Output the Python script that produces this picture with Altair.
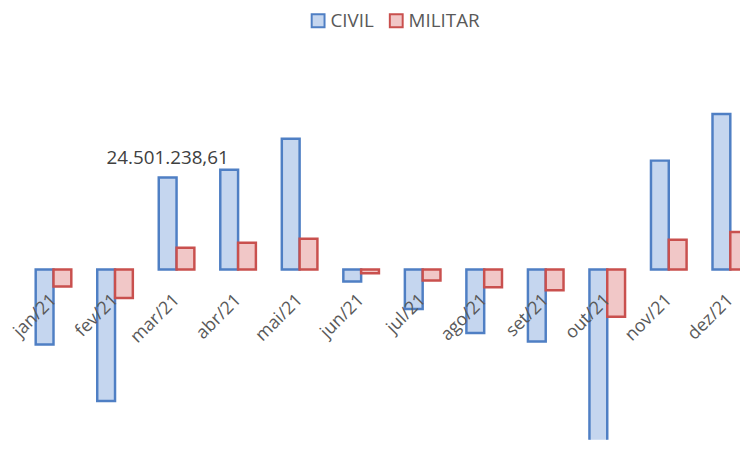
import altair as alt
import pandas as pd

months = ["jan/21", "fev/21", "mar/21", "abr/21", "mai/21", "jun/21",
          "jul/21", "ago/21", "set/21", "out/21", "nov/21", "dez/21"]
series = ["CIVIL", "MILITAR"]
civil = [-20.0e6, -35.0e6, 24501238.61, 26.6e6, 34.8e6, -3.2e6,
         -10.5e6, -16.9e6, -19.2e6, -46.9e6, 29.0e6, 41.4e6]
militar = [-4.5e6, -7.6e6, 5.8e6, 7.1e6, 8.2e6, -1.0e6,
           -2.9e6, -4.7e6, -5.5e6, -12.6e6, 7.9e6, 10.0e6]
fill_colors = ["#C5D6EF", "#F1C7C7"]
stroke_colors = ["#4F7FC4", "#C9504E"]

rows = []
for i, (m, c, mi) in enumerate(zip(months, civil, militar)):
    rows.append({"month": m, "idx": i, "s": 0, "series": "CIVIL", "value": c, "base": 0})
    rows.append({"month": m, "idx": i, "s": 1, "series": "MILITAR", "value": mi, "base": 0})
df = pd.DataFrame(rows)

def br(v):
    s = f"{v:,.2f}"
    return s.replace(",", "X").replace(".", ",").replace("X", ".")

lab_df = pd.DataFrame([{"idx": 2, "value": civil[2], "label": br(civil[2])}])
mon_df = pd.DataFrame({"month": months, "idx": list(range(len(months))), "zero": 0})

W, H = 740, 434
step_px = 62.2
bw = 18 / step_px          # bar width in month units
zero_px = 262
k = civil[2] / 93.0
ymax = zero_px * k
ymin = -(H - zero_px) * k
x0 = -28 / step_px
xdom = [x0, x0 + W / step_px]

xscale = alt.Scale(domain=xdom, nice=False, zero=False)
yscale = alt.Scale(domain=[ymin, ymax], nice=False, zero=False)

leg = alt.Legend(title=None, orient="none", legendX=304, legendY=1, padding=0,
                 direction="horizontal", symbolType="square", symbolSize=169,
                 symbolStrokeWidth=2, labelFontSize=19, labelFont="Open Sans",
                 labelColor="#595959", columnPadding=12, labelOffset=3)

bars = alt.Chart(df).transform_calculate(
    xa=f"datum.idx + datum.s * {bw}",
    xb=f"datum.idx + (datum.s + 1) * {bw}",
).mark_bar(strokeWidth=2.5, clip=True).encode(
    x=alt.X("xa:Q", scale=xscale, axis=None),
    x2="xb:Q",
    y=alt.Y("value:Q", scale=yscale, axis=None),
    y2="base:Q",
    fill=alt.Fill("series:N",
                  scale=alt.Scale(domain=series, range=fill_colors), legend=leg),
    stroke=alt.Stroke("series:N",
                      scale=alt.Scale(domain=series, range=stroke_colors), legend=None),
)

month_labels = alt.Chart(mon_df).transform_calculate(
    xc=f"datum.idx + {bw}"
).mark_text(
    angle=315, align="right", baseline="top", dx=-19.8, dy=11.3,
    font="Open Sans", fontSize=18, color="#595959"
).encode(x=alt.X("xc:Q", scale=xscale, axis=None),
         y=alt.Y("zero:Q", scale=yscale, axis=None), text="month:N")

data_label = alt.Chart(lab_df).transform_calculate(
    xc=f"datum.idx + {bw / 2}"
).mark_text(
    baseline="alphabetic", dy=-14, font="Open Sans", fontSize=19, color="#404040"
).encode(x=alt.X("xc:Q", scale=xscale, axis=None),
         y=alt.Y("value:Q", scale=yscale, axis=None), text="label:N")

chart = alt.layer(bars, month_labels, data_label).properties(
    width=W, height=H, padding=0,
    autosize=alt.AutoSizeParams(type="none"),
).configure_view(stroke=None)

chart.save("out.html", embed_options={"renderer": "svg", "actions": False})
